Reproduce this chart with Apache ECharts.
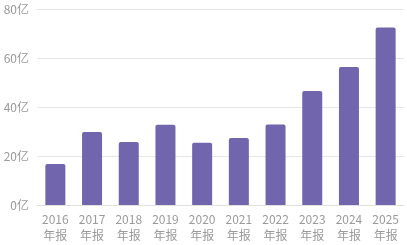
<!DOCTYPE html>
<html><head><meta charset="utf-8">
<script src="https://cdn.jsdelivr.net/npm/echarts@6/dist/echarts.min.js"></script>
<style>html,body{margin:0;padding:0;background:#fff}#c{width:407px;height:245px}</style>
</head><body><div id="c"></div>
<script>
const categories = ['2016\n年报','2017\n年报','2018\n年报','2019\n年报','2020\n年报','2021\n年报','2022\n年报','2023\n年报','2024\n年报','2025\n年报'];
const values = [16.7, 29.8, 25.7, 32.8, 25.4, 27.3, 32.9, 46.5, 56.3, 72.4];
const yTicks = [0, 20, 40, 60, 80];
const chart = echarts.init(document.getElementById('c'), null, {renderer:'canvas'});
chart.setOption({
  animation:false,
  grid:{left:37, right:3, top:9, bottom:40},
  xAxis:{type:'category', data:categories,
    axisLine:{lineStyle:{color:'#e0e0e0'}}, axisTick:{show:false},
    axisLabel:{color:'#9a9a9a', fontSize:12, lineHeight:16, margin:6, fontFamily:'Noto Sans CJK SC'}},
  yAxis:{type:'value', min:yTicks[0], max:yTicks[yTicks.length-1], interval:20,
    axisLabel:{color:'#9a9a9a', fontSize:12, margin:8, formatter:v=>v+'亿', fontFamily:'Noto Sans CJK SC'},
    splitLine:{lineStyle:{color:'#e6e6e6'}}, axisLine:{show:false}, axisTick:{show:false}},
  series:[{type:'bar', data:values, barWidth:20, itemStyle:{color:'#7165ad', borderRadius:[2,2,0,0]}}]
});
</script></body></html>
